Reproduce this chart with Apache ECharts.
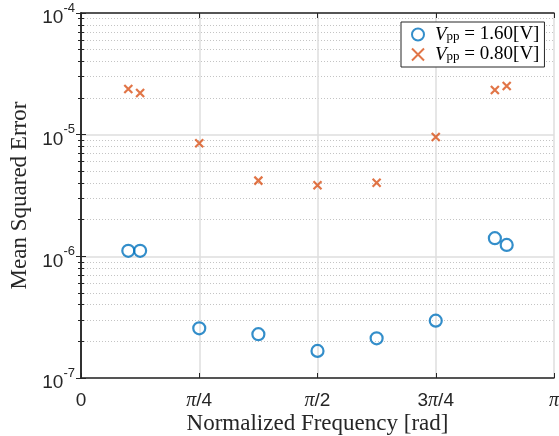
<!DOCTYPE html>
<html>
<head>
<meta charset="utf-8">
<script src="https://cdn.jsdelivr.net/npm/echarts@6/dist/echarts.min.js"></script>
<style>
html,body{margin:0;padding:0;background:#fff;}
#c{width:559px;height:436px;}
</style>
</head>
<body>
<div id="c"></div>
<script>
// x positions in units of pi (normalized frequency / pi)
const freqOverPi = [0.1, 0.125, 0.25, 0.375, 0.5, 0.625, 0.75, 0.875, 0.9];
const mse160 = [1.11e-6, 1.11e-6, 2.56e-7, 2.29e-7, 1.67e-7, 2.12e-7, 2.96e-7, 1.41e-6, 1.24e-6];
const mse080 = [2.37e-5, 2.20e-5, 8.49e-6, 4.19e-6, 3.84e-6, 4.03e-6, 9.57e-6, 2.33e-5, 2.51e-5];
const seriesNames = ['Vpp160', 'Vpp080'];
const legendLabels = ['{v|V}{s|pp}{t| = 1.60[V]}', '{v|V}{s|pp}{t| = 0.80[V]}'];
const xTickLabels = ['0', '{p|π}/4', '{p|π}/2', '3{p|π}/4', '{p|π}'];

const BLUE = '#0072BD', ORANGE = '#D95319', AXC = '#262626';
const SERIF = '"Liberation Serif", "DejaVu Serif", serif';
const SANS = '"Liberation Sans", Arial, sans-serif';

const chart = echarts.init(document.getElementById('c'), null, {renderer: 'canvas'});

function pairs(xs, ys) { return xs.map((x, i) => [x, ys[i]]); }

const crossPath = 'path://M0,0L10,10M10,0L0,10';

const baseX = {
  type: 'value', min: 0, max: 1, interval: 0.25,
  axisLine: {show: true, onZero: false, lineStyle: {color: AXC, width: 1.5}},
  axisTick: {show: true, inside: true, length: 5, lineStyle: {color: AXC, width: 1}},
};
const baseY = {
  type: 'log', logBase: 10, min: 1e-7, max: 1e-4,
  axisLine: {show: true, lineStyle: {color: AXC, width: 1.5}},
  axisTick: {show: true, inside: true, length: 5, lineStyle: {color: AXC, width: 1}},
  minorTick: {show: true, splitNumber: 9, length: 3, lineStyle: {color: AXC, width: 1}},
};

const option = {
  backgroundColor: '#fff',
  animation: false,
  grid: {left: 81, right: 5, top: 13, bottom: 58, containLabel: false, outerBoundsMode: 'none'},
  legend: {
    left: 401, top: 22,
    orient: 'vertical',
    itemWidth: 12, itemHeight: 12, itemGap: 1,
    padding: [3, 5, 3, 10],
    backgroundColor: '#fff',
    borderColor: AXC, borderWidth: 1,
    data: seriesNames,
    formatter: function (name) { return legendLabels[seriesNames.indexOf(name)]; },
    textStyle: {
      fontFamily: SERIF, fontSize: 19, color: '#000',
      rich: {
        v: {fontFamily: SERIF, fontStyle: 'italic', fontSize: 19, lineHeight: 18, color: '#000', padding: [0, 0, 0, 6]},
        s: {fontFamily: SERIF, fontSize: 13, lineHeight: 12, color: '#000', verticalAlign: 'bottom', padding: [5, 0, 0, 0]},
        t: {fontFamily: SERIF, fontSize: 19, lineHeight: 18, color: '#000'}
      }
    }
  },
  xAxis: [
    Object.assign({}, baseX, {
      position: 'bottom',
      name: 'Normalized Frequency [rad]', nameLocation: 'middle', nameGap: 34,
      nameMoveOverlap: false,
      nameTextStyle: {fontFamily: SERIF, fontSize: 23, color: '#262626'},
      axisLabel: {
        margin: 13, color: '#262626', fontFamily: SANS, fontSize: 19,
        formatter: function (v) { return xTickLabels[Math.round(v / 0.25)]; },
        rich: {p: {fontFamily: SERIF, fontStyle: 'italic', fontSize: 20, color: '#262626'}}
      },
      splitLine: {show: true, lineStyle: {color: '#dedede', width: 1.5}}
    }),
    Object.assign({}, baseX, {
      position: 'top', axisLabel: {show: false}, splitLine: {show: false}
    })
  ],
  yAxis: [
    Object.assign({}, baseY, {
      position: 'left',
      name: 'Mean Squared Error', nameLocation: 'middle', nameGap: 50,
      nameMoveOverlap: false,
      nameTextStyle: {fontFamily: SERIF, fontSize: 23, color: '#262626'},
      axisLabel: {
        margin: 6, color: '#262626', fontFamily: SANS, fontSize: 19,
        verticalAlign: 'middle',
        formatter: function (v) { return '{b|10}{e|' + Math.round(Math.log10(v)) + '}'; },
        rich: {
          b: {fontFamily: SANS, fontSize: 19, color: '#262626', verticalAlign: 'bottom', padding: [10, 0, 0, 0]},
          e: {fontFamily: SANS, fontSize: 13, color: '#262626', verticalAlign: 'top', padding: [3, 0, 0, 0]}
        }
      },
      splitLine: {show: true, lineStyle: {color: '#dedede', width: 1.5}},
      minorSplitLine: {show: true, lineStyle: {color: '#c4c4c4', width: 1, type: [1, 2]}}
    }),
    Object.assign({}, baseY, {
      position: 'right', axisLabel: {show: false}, splitLine: {show: false}
    })
  ],
  series: [
    {
      name: seriesNames[0], type: 'scatter', xAxisIndex: 0, yAxisIndex: 0,
      symbol: 'circle', symbolSize: 12,
      itemStyle: {color: 'rgba(0,0,0,0)', borderColor: BLUE, borderWidth: 2.2},
      data: pairs(freqOverPi, mse160), z: 5
    },
    {
      name: seriesNames[1], type: 'scatter', xAxisIndex: 0, yAxisIndex: 0,
      symbol: crossPath, symbolSize: 8,
      itemStyle: {color: 'rgba(0,0,0,0)', borderColor: ORANGE, borderWidth: 2.2},
      data: pairs(freqOverPi, mse080), z: 5
    }
  ]
};
chart.setOption(option);
</script>
</body>
</html>
